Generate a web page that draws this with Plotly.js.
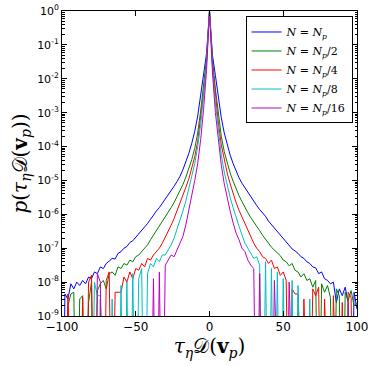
<!DOCTYPE html>
<html>
<head>
<meta charset="utf-8">
<script src="https://cdn.plot.ly/plotly-3.0.1.min.js"></script>
<style>
  html, body { margin: 0; padding: 0; background: #fff; }
  #chart { width: 374px; height: 366px; }
</style>
</head>
<body>
<div id="chart"></div>
<script>
// bin centres, tau_eta * D(v_p)
var binX = [
  -100, -98, -96, -94, -92, -90, -88, -86, -84, -82,
  -80, -78, -76, -74, -72, -70, -68, -66, -64, -62,
  -60, -58, -56, -54, -52, -50, -48, -46, -44, -42,
  -40, -38, -36, -34, -32, -30, -28, -26, -24, -22,
  -20, -18, -16, -14, -12, -10, -8, -6, -4, -2,
  0, 2, 4, 6, 8, 10, 12, 14, 16, 18,
  20, 22, 24, 26, 28, 30, 32, 34, 36, 38,
  40, 42, 44, 46, 48, 50, 52, 54, 56, 58,
  60, 62, 64, 66, 68, 70, 72, 74, 76, 78,
  80, 82, 84, 86, 88, 90, 92, 94, 96, 98,
  100
];

// log10 of the pdf, null = empty bin
var logP_N1 = [
  null, -8.35, -8.5, -8.05, -8.2, -8.0, -8.1, -7.95, -8.05, -7.85,
  -7.9, -7.7, -7.75, -7.55, -7.6, -7.45, -7.38, -7.3, -7.32, -7.15,
  -7.1, -7.0, -6.95, -6.83, -6.78, -6.68, -6.6, -6.5, -6.4, -6.27,
  -6.15, -6.02, -5.9, -5.8, -5.68, -5.56, -5.43, -5.3, -5.17, -5.03,
  -4.88, -4.68, -4.45, -4.2, -3.9, -3.55, -3.1, -2.5, -1.85, -1.25,
  0, -1.3, -1.9, -2.55, -3.15, -3.6, -3.95, -4.25, -4.5, -4.72,
  -4.92, -5.08, -5.22, -5.36, -5.49, -5.62, -5.74, -5.86, -5.96, -6.06,
  -6.2, -6.3, -6.42, -6.52, -6.62, -6.7, -6.82, -6.9, -7.02, -7.08,
  -7.15, -7.25, -7.3, -7.4, -7.45, -7.55, -7.58, -7.75, -7.7, -7.9,
  -7.95, -8.05, -8.0, -8.6, -8.2, -8.4, -8.15, -8.6, null, -8.3,
  -8.8
];

var logP_N2 = [
  null, null, -8.7, -8.35, -8.3, null, -8.5, -8.4, null, -8.6,
  -8.0, null, -8.25, -8.05, -7.95, -8.2, -7.75, -7.7, -7.8, -7.55,
  -7.6, -7.45, -7.5, -7.35, -7.4, -7.25, -7.2, -7.1, -7.0, -6.9,
  -6.75, -6.62, -6.48, -6.35, -6.22, -6.08, -5.95, -5.8, -5.65, -5.48,
  -5.3, -5.12, -4.9, -4.65, -4.38, -4.05, -3.6, -2.95, -2.2, -1.4,
  0, -1.45, -2.3, -3.05, -3.7, -4.15, -4.5, -4.78, -5.02, -5.25,
  -5.45, -5.62, -5.8, -5.95, -6.1, -6.22, -6.35, -6.48, -6.62, -6.72,
  -6.85, -6.97, -7.05, -7.15, -7.22, -7.35, -7.4, -7.52, -7.45, -7.65,
  -7.7, -7.85, -7.75, -7.95, -7.9, -8.15, -7.95, null, -8.05, -8.3,
  -8.1, -8.45, null, -8.2, -8.4, null, -8.3, -8.55, -8.25, -8.7,
  -8.6
];

var logP_N4 = [
  null, null, -8.35, null, null, null, null, -8.45, null, -8.0,
  -7.8, null, null, -8.5, null, -7.95, -7.7, null, -8.3, -8.3,
  -8.3, -7.85, -8.0, -7.7, -7.9, -7.6, -7.65, -7.45, -7.55, -7.3,
  -7.35, -7.2, -7.1, -7.0, -6.85, -6.68, -6.5, -6.32, -6.12, -5.9,
  -5.7, -5.45, -5.2, -4.95, -4.65, -4.3, -3.85, -3.2, -2.4, -1.5,
  0, -1.55, -2.5, -3.3, -3.95, -4.4, -4.78, -5.1, -5.4, -5.65,
  -5.88, -6.08, -6.3, -6.5, -6.68, -6.85, -7.0, -7.1, -7.25, -7.3,
  -7.45, -7.35, -7.6, -7.55, -7.8, -7.7, -7.95, null, -8.2, -8.35,
  -8.35, null, -8.5, null, null, -8.2, -8.4, -8.15, null, -8.5,
  null, null, -8.4, null, null, -8.6, null, -8.3, -8.45, null,
  null
];

var logP_N8 = [
  null, null, null, null, null, null, null, null, null, null,
  null, -8.0, -8.4, -8.4, null, null, null, -8.5, null, null,
  -8.1, null, -8.0, null, -7.75, null, -7.9, -7.6, null, -7.75,
  -7.45, -7.55, -7.3, -7.4, -7.2, -7.2, -7.05, -6.9, -6.7, -6.45,
  -6.2, -5.9, -5.6, -5.25, -4.9, -4.5, -4.0, -3.35, -2.5, -1.55,
  0, -1.65, -2.7, -3.55, -4.25, -4.75, -5.15, -5.5, -5.8, -6.1,
  -6.35, -6.6, -6.85, -7.0, -7.15, -7.3, -7.25, -7.5, null, -7.4,
  null, -7.6, null, -7.7, null, -7.9, null, null, -7.95, null,
  -8.1, null, null, null, -8.5, null, null, null, null, null,
  null, null, null, null, null, null, null, null, null, null,
  null
];

var logP_N16 = [
  null, null, null, null, null, null, null, null, null, null,
  null, null, -7.75, -8.0, null, null, null, null, null, null,
  null, null, null, null, null, null, null, null, null, null,
  null, -7.9, null, -7.7, null, -7.5, -7.35, -7.2, -7.25, -7.05,
  -6.9, -6.65, -6.3, -5.9, -5.45, -5.0, -4.5, -3.8, -2.9, -1.75,
  0, -1.8, -3.0, -3.85, -4.55, -5.1, -5.55, -5.9, -6.25, -6.55,
  -6.75, -7.0, -7.1, -7.35, -7.5, -7.6, null, -7.75, null, null,
  null, null, -7.95, null, null, null, null, -8.0, null, null,
  null, null, null, null, null, null, null, null, null, null,
  null, null, null, null, null, null, null, null, null, null,
  null
];

var seriesNames = [
  '<i>N</i> = <i>N</i><sub><i>p</i></sub>',
  '<i>N</i> = <i>N</i><sub><i>p</i></sub>/2',
  '<i>N</i> = <i>N</i><sub><i>p</i></sub>/4',
  '<i>N</i> = <i>N</i><sub><i>p</i></sub>/8',
  '<i>N</i> = <i>N</i><sub><i>p</i></sub>/16'
];
var seriesLog = [logP_N1, logP_N2, logP_N4, logP_N8, logP_N16];
var colors = ['#0000ff', '#008000', '#ff0000', '#00bfbf', '#bf00bf'];

var yTickVals = [1e-9, 1e-8, 1e-7, 1e-6, 1e-5, 1e-4, 1e-3, 1e-2, 1e-1, 1];
var yTickText = [
  '10<sup>-9</sup>', '10<sup>-8</sup>', '10<sup>-7</sup>', '10<sup>-6</sup>', '10<sup>-5</sup>',
  '10<sup>-4</sup>', '10<sup>-3</sup>', '10<sup>-2</sup>', '10<sup>-1</sup>', '10<sup>0</sup>'
];
var xTickVals = [-100, -50, 0, 50, 100];

// empty bins fall far below the axis so the line drops off the bottom, like matplotlib clipping
function toP(v) {
  return v === null ? 1e-14 : Math.pow(10, v);
}

var data = seriesLog.map(function (s, i) {
  return {
    x: binX,
    y: s.map(toP),
    type: 'scatter',
    mode: 'lines',
    name: seriesNames[i],
    line: {color: colors[i], width: 1},
    hoverinfo: 'skip'
  };
});

var axisFont = {family: 'DejaVu Sans', size: 11, color: '#000'};
var mathFont = {family: 'DejaVu Serif', size: 20, color: '#000'};

var layout = {
  width: 374,
  height: 366,
  margin: {l: 62, r: 17, t: 11, b: 50},
  paper_bgcolor: '#fff',
  plot_bgcolor: '#fff',
  showlegend: true,
  legend: {
    x: 0.985, y: 0.982, xanchor: 'right', yanchor: 'top',
    bordercolor: '#000', borderwidth: 1, bgcolor: '#fff',
    font: {family: 'DejaVu Serif', size: 11, color: '#000'},
    itemwidth: 30,
    tracegroupgap: 0
  },
  xaxis: {
    range: [-100, 100],
    tickmode: 'array',
    tickvals: xTickVals,
    ticks: 'inside', ticklen: 5, tickwidth: 1, tickcolor: '#000',
    showline: true, linecolor: '#000', linewidth: 1, mirror: 'allticks',
    showgrid: false, zeroline: false,
    tickfont: {family: 'DejaVu Sans', size: 12, color: '#000'},
    title: {
      text: '<i>τ</i><sub><i>η</i></sub>𝒟(<b>v</b><sub><i>p</i></sub>)',
      font: mathFont,
      standoff: 2
    }
  },
  yaxis: {
    type: 'log',
    range: [-9, 0],
    tickmode: 'array',
    tickvals: yTickVals,
    ticktext: yTickText,
    ticks: 'inside', ticklen: 5, tickwidth: 1, tickcolor: '#000',
    minor: {ticks: 'inside', ticklen: 2.5, tickcolor: '#000', dtick: 'D1', showgrid: false},
    showline: true, linecolor: '#000', linewidth: 1, mirror: 'allticks',
    showgrid: false, zeroline: false,
    tickfont: axisFont,
    title: {
      text: '<i>p</i>(<i>τ</i><sub><i>η</i></sub>𝒟(<b>v</b><sub><i>p</i></sub>))',
      font: mathFont,
      standoff: 4
    }
  }
};

Plotly.newPlot('chart', data, layout, {displayModeBar: false, staticPlot: true});
</script>
</body>
</html>
